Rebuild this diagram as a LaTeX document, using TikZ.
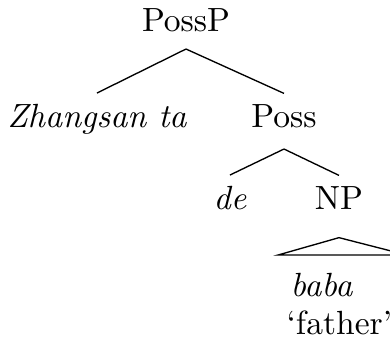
\documentclass[tikz,border=0pt]{standalone}
\usepackage{tikz}
\usetikzlibrary{calc}

\begin{document}
\begin{tikzpicture}[x=0.298pt,y=-0.298pt,
    cat/.style={inner sep=0pt,anchor=base},
    word/.style={inner sep=0pt,anchor=base,font=\itshape},
    branch/.style={line width=0.4pt}]
    \useasboundingbox (0,0) rectangle (390,349);
    \node[cat] (possp) at (186,32) {PossP};
    \node[word] (zhang) at (97,128) {Zhangsan ta};
    \node[cat] (poss) at (284,128) {Poss};
    \node[word] (de) at (230,210) {de};
    \node[cat] (np) at (339,210) {NP};
    \node[word,anchor=base west] (baba) at (290,297) {baba};
    \node[cat,anchor=base west] (father) at (286,335) {`father'};
    % branches
    \draw[branch] ($(possp.south)+(0,16)$) -- ($(zhang.north)+(0,-11)$);
    \draw[branch] ($(possp.south)+(0,16)$) -- ($(poss.north)+(0,-11)$);
    \draw[branch] ($(poss.south)+(0,20)$) -- ($(de.north)+(0,-11)$);
    \draw[branch] ($(poss.south)+(0,20)$) -- ($(np.north)+(0,-11)$);
    % roof over the NP
    \draw[branch] ($(np.south)+(0,27)$) -- ($(baba.north -| father.west)+(-8,-18)$)
      -- ($(baba.north -| father.east)+(14,-18)$) -- cycle;
\end{tikzpicture}
\end{document}
